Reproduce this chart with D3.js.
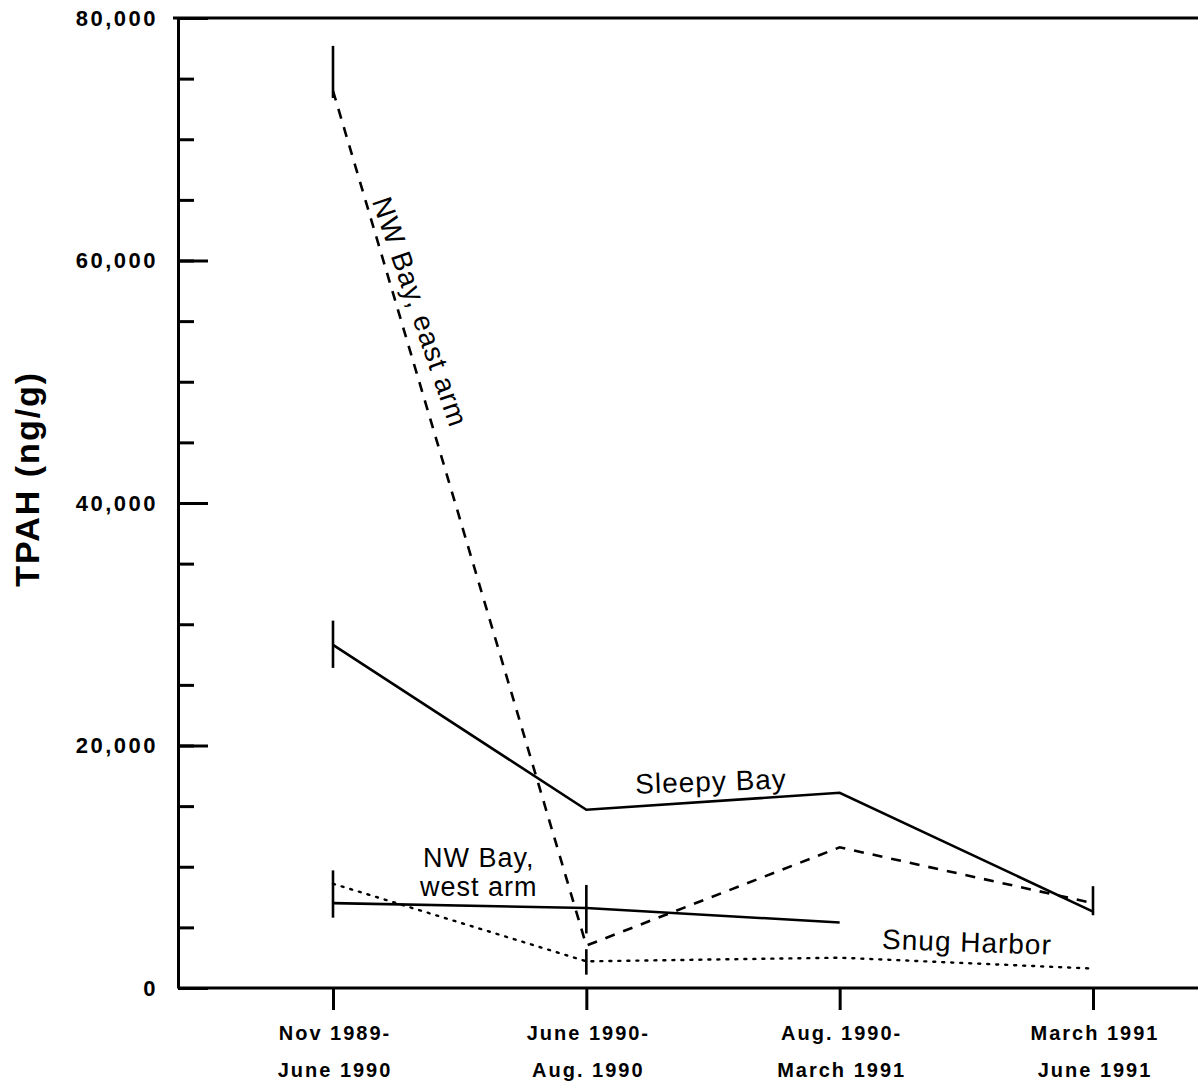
<!DOCTYPE html>
<html>
<head>
<meta charset="utf-8">
<script src="https://cdn.jsdelivr.net/npm/d3@7"></script>
<style>
  body { margin: 0; background: #fff; }
  text { font-family: "Liberation Sans", Arial, sans-serif; fill: #000; }
  .tick-label { font-size: 22px; font-weight: bold; letter-spacing: 2.5px; }
  .cat-label { font-size: 20px; font-weight: bold; letter-spacing: 2px; }
  .series-label { font-size: 28px; letter-spacing: 1px; }
</style>
</head>
<body>
<svg id="chart"></svg>
<script>
// periods on the x axis (two lines each)
const periods = [
  ["Nov 1989-", "June 1990"],
  ["June 1990-", "Aug. 1990"],
  ["Aug. 1990-", "March 1991"],
  ["March 1991", "June 1991"]
];

// TPAH (ng/g) per site, null = no sample
const eastArm  = [74000, 3500, 11600, 7000];
const sleepyBay = [28300, 14700, 16100, 6300];
const westArm  = [7000, 6600, 5400, null];
const snugHarbor = [8600, 2200, 2500, 1600];

// error bars [period index, low, high]
const eastArmErr = [[0, 73400, 77700]];
const sleepyErr = [[0, 26400, 30300], [3, 6000, 8400]];
const westErr = [[0, 5800, 9700], [1, 4500, 8500]];
const snugErr = [[1, 1100, 3200]];

const majorTicks = [0, 20000, 40000, 60000, 80000];
const minorTicks = d3.range(0, 80001, 5000);

const config = {
  width: 1198, height: 1084,
  margin: { top: 18, right: 0, bottom: 96, left: 178 }
};

const svg = d3.select("#chart")
  .attr("width", config.width)
  .attr("height", config.height);

const innerW = config.width - config.margin.left - config.margin.right;
const innerH = config.height - config.margin.top - config.margin.bottom;

const chart = svg.append("g")
  .attr("transform", `translate(${config.margin.left},${config.margin.top})`);

const xScale = d3.scalePoint()
  .domain(d3.range(periods.length))
  .range([155, 915]);

const yScale = d3.scaleLinear()
  .domain([0, 80000])
  .range([innerH, 0]);

// frame: top line and baseline
chart.append("line")
  .attr("x1", -5).attr("x2", innerW)
  .attr("y1", 0).attr("y2", 0)
  .attr("stroke", "#000").attr("stroke-width", 3);

chart.append("line")
  .attr("x1", 0).attr("x2", innerW)
  .attr("y1", innerH).attr("y2", innerH)
  .attr("stroke", "#000").attr("stroke-width", 3);

// minor ticks
chart.append("g")
  .call(d3.axisLeft(yScale).tickValues(minorTicks).tickSizeInner(-16).tickSizeOuter(0).tickFormat(""))
  .call(g => g.selectAll("line").attr("stroke-width", 3))
  .call(g => g.select(".domain").attr("stroke-width", 3));

// major ticks with labels
chart.append("g")
  .call(d3.axisLeft(yScale).tickValues(majorTicks).tickSizeInner(-30).tickSizeOuter(0)
    .tickPadding(20).tickFormat(d3.format(",")))
  .call(g => g.select(".domain").remove())
  .call(g => g.selectAll("line").attr("stroke-width", 3))
  .call(g => g.selectAll("text").attr("class", "tick-label").attr("font-family", null).attr("font-size", null));

// x axis ticks
const xAxisGroup = chart.append("g")
  .attr("transform", `translate(0,${innerH})`)
  .call(d3.axisBottom(xScale).tickSizeInner(22).tickSizeOuter(0).tickFormat(""))
  .call(g => g.select(".domain").remove())
  .call(g => g.selectAll("line").attr("stroke-width", 3));

chart.selectAll(".cat-label")
  .data(periods)
  .join("text")
  .attr("class", "cat-label")
  .attr("text-anchor", "middle")
  .attr("transform", (d, i) => `translate(${xScale(i) + 2},${innerH + 52})`)
  .selectAll("tspan")
  .data(d => d)
  .join("tspan")
  .attr("x", 0)
  .attr("dy", (d, i) => i === 0 ? 0 : 37)
  .text(d => d);

// y axis title
svg.append("text")
  .attr("transform", `translate(39,${config.margin.top + yScale(42000)}) rotate(-90)`)
  .attr("text-anchor", "middle")
  .style("font-size", "34px")
  .style("font-weight", "bold")
  .style("letter-spacing", "2px")
  .text("TPAH (ng/g)");

// lines
const line = d3.line()
  .defined(d => d != null)
  .x((d, i) => xScale(i))
  .y(d => yScale(d));

const series = [
  { values: eastArm, err: eastArmErr, dash: "10,9", width: 2.6 },
  { values: sleepyBay, err: sleepyErr, dash: null, width: 2.6 },
  { values: westArm, err: westErr, dash: null, width: 2.6 },
  { values: snugHarbor, err: snugErr, dash: "2,7", width: 2.4 }
];

series.forEach(s => {
  chart.append("path")
    .datum(s.values)
    .attr("fill", "none")
    .attr("stroke", "#000")
    .attr("stroke-width", s.width)
    .attr("stroke-dasharray", s.dash)
    .attr("stroke-linecap", s.dash === "2,7" ? "round" : "butt")
    .attr("d", line);

  chart.selectAll(null)
    .data(s.err)
    .join("line")
    .attr("x1", d => xScale(d[0])).attr("x2", d => xScale(d[0]))
    .attr("y1", d => yScale(d[1])).attr("y2", d => yScale(d[2]))
    .attr("stroke", "#000")
    .attr("stroke-width", 2.6);
});

// series labels
const labelAt = (text, xi, val, dx, dy, angle) => {
  chart.append("text")
    .attr("class", "series-label")
    .attr("text-anchor", "middle")
    .attr("transform", `translate(${xScale(xi) + dx},${yScale(val) + dy}) rotate(${angle})`)
    .text(text);
};

labelAt("NW Bay, east arm", 0, 55500, 78, 0, 71);
labelAt("Sleepy Bay", 1, 16000, 125, -3, -2);
labelAt("Snug Harbor", 2, 2500, 127, -6, 2);

// two-line label, one text element per line
const westLines = ["NW Bay,", "west arm"];
chart.selectAll(".west-label")
  .data(westLines)
  .join("text")
  .attr("class", "series-label west-label")
  .attr("text-anchor", "middle")
  .style("font-size", "27px")
  .attr("x", (xScale(0) + xScale(1)) / 2 + 19)
  .attr("y", (d, i) => yScale(westArm[0]) - 36 + i * 29)
  .text(d => d);
</script>
</body>
</html>
